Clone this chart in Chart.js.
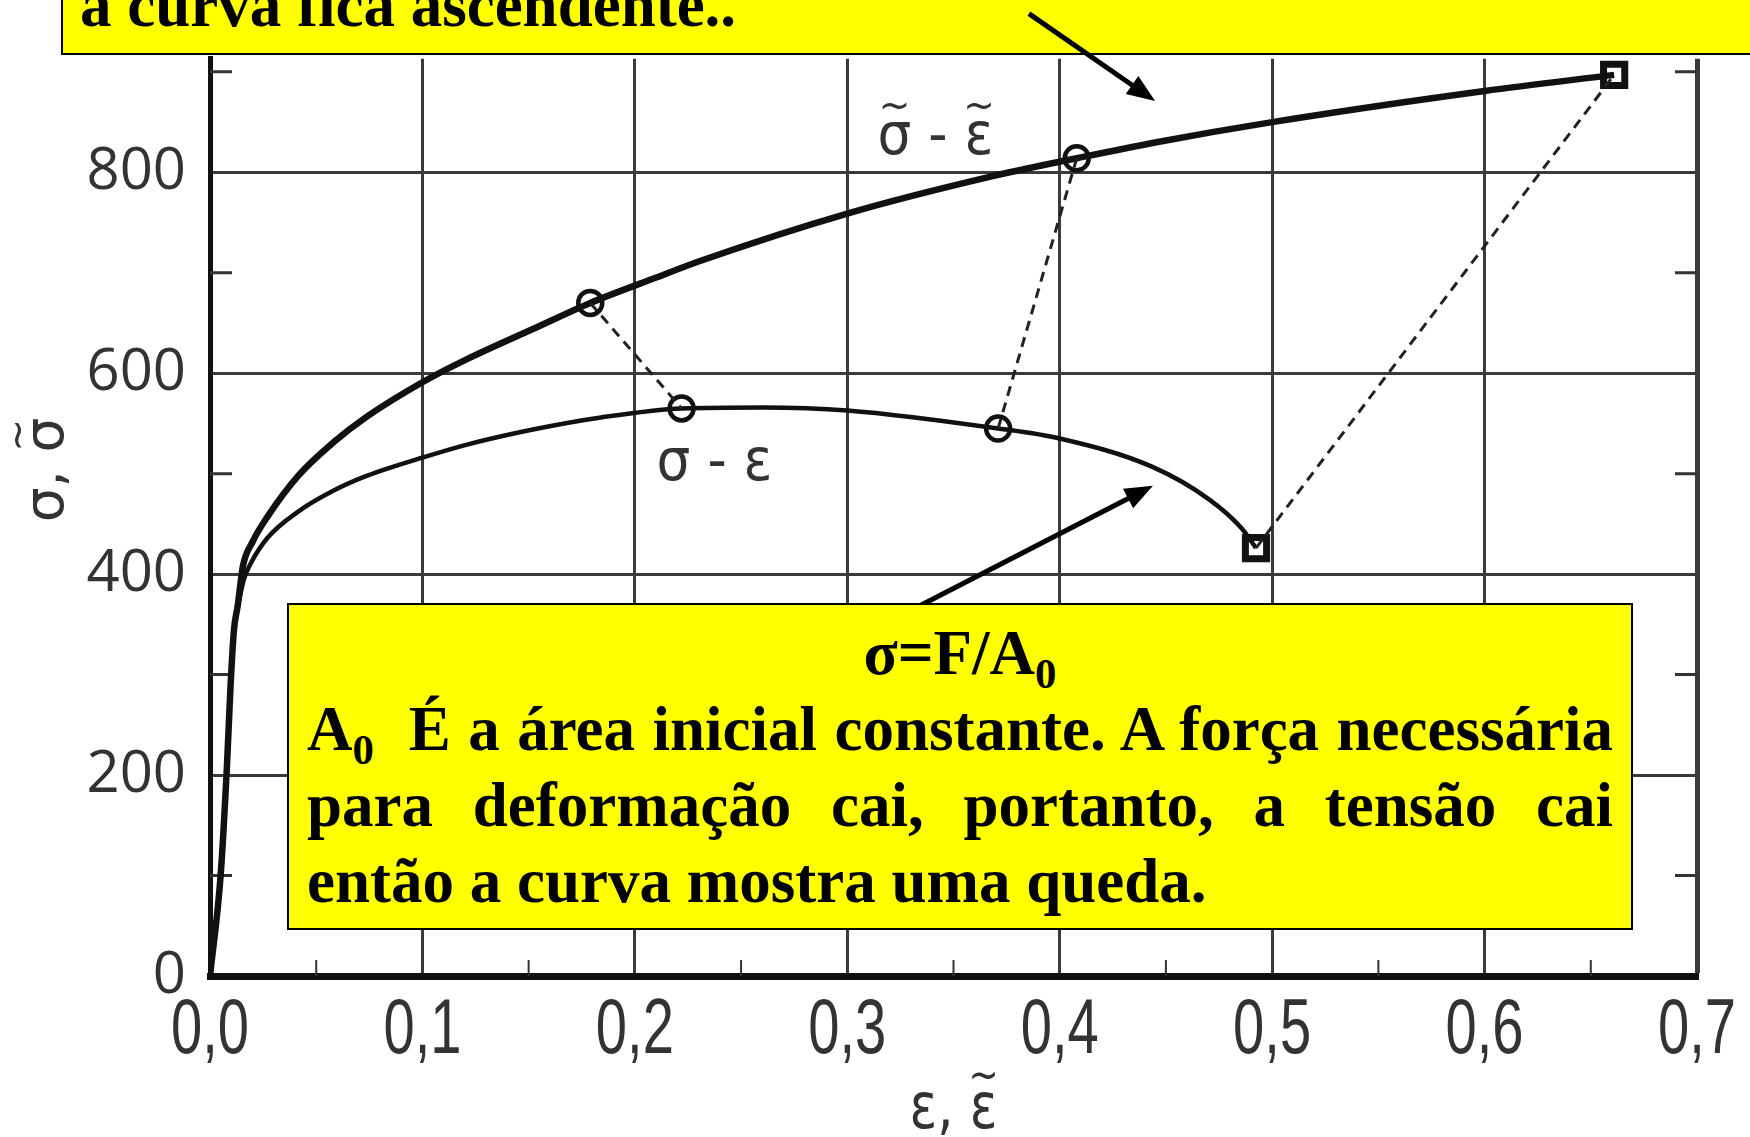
<!DOCTYPE html>
<html>
<head>
<meta charset="utf-8">
<script src="https://cdn.jsdelivr.net/npm/chart.js@4.4.1/dist/chart.umd.min.js"></script>
<style>
html, body { margin: 0; padding: 0; background: #fff; }
#wrap { position: relative; width: 1750px; height: 1137px; overflow: hidden; }
#chart { position: absolute; left: 0; top: 0; z-index: 1; }
.note {
    position: absolute; background: #ffff00; border: 2px solid #000; box-sizing: border-box;
    font-family: "Liberation Serif", "Times New Roman", serif; font-weight: bold; color: #000;
    font-size: 63px;
}
.note sub { font-size: 0.68em; vertical-align: -0.32em; line-height: 0; }
#noteTop { left: 61px; top: -80px; width: 1720px; height: 135px; z-index: 0; }
#noteTop div { position: absolute; left: 17px; top: 52px; line-height: 1; white-space: nowrap; }
#noteBottom { left: 287px; top: 603px; width: 1346px; height: 327px; z-index: 2; padding: 10px 18px 0 18px; }
#noteBottom div { line-height: 76px; height: 76px; white-space: nowrap; }
#noteBottom .c { text-align: center; }
#noteBottom .j { text-align: justify; text-align-last: justify; }
</style>
</head>
<body>
<div id="wrap">
  <div class="note" id="noteTop"><div>a curva fica ascendente..</div></div>
  <canvas id="chart" width="1750" height="1137"></canvas>
  <div class="note" id="noteBottom">
    <div class="c">σ=F/A<sub>0</sub></div>
    <div class="j">A<sub>0</sub>&nbsp; É a área inicial constante. A força necessária</div>
    <div class="j">para deformação cai, portanto, a tensão cai</div>
    <div>então a curva mostra uma queda.</div>
  </div>
</div>
<script>
// true stress - true strain curve
const trueStrain = [0, 0.005, 0.008, 0.0097, 0.0113, 0.013, 0.0155, 0.02, 0.027, 0.042, 0.058, 0.074, 0.1, 0.121, 0.152, 0.179, 0.2085, 0.231, 0.3, 0.366, 0.408, 0.4455, 0.5, 0.6, 0.661];
const trueStress = [0, 100, 210, 290, 345, 368, 408, 432, 457, 499, 531, 557, 591, 614, 644, 670, 694, 712, 759, 795, 814, 830, 850, 881, 897];

// engineering stress - strain curve
const engStrain = [0, 0.005, 0.008, 0.0097, 0.0113, 0.013, 0.016, 0.019, 0.027, 0.042, 0.058, 0.074, 0.1, 0.121, 0.152, 0.184, 0.222, 0.26, 0.3, 0.371, 0.4, 0.4434, 0.4706, 0.4855, 0.4924];
const engStress = [0, 100, 210, 290, 345, 366, 395, 410, 436, 463, 483, 498, 516, 529, 544, 556, 565, 566, 563, 545, 535, 507, 474, 446, 426];

// marked points
const trueMarkStrain = [0.179, 0.408];
const trueMarkStress = [670, 814];
const engMarkStrain = [0.222, 0.371];
const engMarkStress = [565, 545];
const endStrain = [0.4924, 0.661];   // end of eng curve, end of true curve
const endStress = [426, 897];

// axis ticks
const xTicks = [0, 0.1, 0.2, 0.3, 0.4, 0.5, 0.6, 0.7];
const yTickLabels = ['0', '200', '400', '600', '800'];

function pts(xs, ys) {
    return xs.map(function(x, i) { return { x: x, y: ys[i] }; });
}

var dashPairs = [
    [[trueMarkStrain[0], trueMarkStress[0]], [engMarkStrain[0], engMarkStress[0]]],
    [[engMarkStrain[1], engMarkStress[1]], [trueMarkStrain[1], trueMarkStress[1]]],
    [[endStrain[0], endStress[0]], [endStrain[1], endStress[1]]]
];

var datasets = [];
dashPairs.forEach(function(p) {
    datasets.push({
        data: [{ x: p[0][0], y: p[0][1] }, { x: p[1][0], y: p[1][1] }],
        showLine: true, borderColor: '#222', borderWidth: 3, borderDash: [10, 7],
        pointRadius: 0
    });
});
datasets.push({
    data: pts(trueStrain, trueStress), showLine: true, borderColor: '#111', borderWidth: 6.5,
    cubicInterpolationMode: 'monotone', pointRadius: 0
});
datasets.push({
    data: pts(engStrain, engStress), showLine: true, borderColor: '#111', borderWidth: 4.5,
    cubicInterpolationMode: 'monotone', pointRadius: 0
});
datasets.push({
    data: pts(trueMarkStrain, trueMarkStress).concat(pts(engMarkStrain, engMarkStress)),
    showLine: false, pointRadius: 12, pointBorderWidth: 4.5,
    pointBackgroundColor: '#fff', pointBorderColor: '#111'
});
datasets.push({
    data: pts(endStrain, endStress), showLine: false, pointStyle: 'rect',
    pointRadius: 15, pointBorderWidth: 7, pointBackgroundColor: '#fff', pointBorderColor: '#111'
});

// annotation anchors (data coordinates)
const arrowUpper = [[0.3855, 958], [0.4449, 871]];
const arrowLower = [[0.3346, 369], [0.4439, 488]];
const labelUpper = [0.3415, 818];
const labelLower = [0.2375, 494];

function drawArrow(ctx, x1, y1, x2, y2) {
    var a = Math.atan2(y2 - y1, x2 - x1);
    var len = 28, w = 11;
    ctx.save();
    ctx.strokeStyle = '#000'; ctx.fillStyle = '#000'; ctx.lineWidth = 5;
    ctx.beginPath();
    ctx.moveTo(x1, y1);
    ctx.lineTo(x2 - Math.cos(a) * len * 0.8, y2 - Math.sin(a) * len * 0.8);
    ctx.stroke();
    ctx.beginPath();
    ctx.moveTo(x2, y2);
    ctx.lineTo(x2 - Math.cos(a) * len - Math.sin(a) * w, y2 - Math.sin(a) * len + Math.cos(a) * w);
    ctx.lineTo(x2 - Math.cos(a) * len + Math.sin(a) * w, y2 - Math.sin(a) * len - Math.cos(a) * w);
    ctx.closePath();
    ctx.fill();
    ctx.restore();
}

// narrow text: normal font squeezed sideways
function narrowText(ctx, txt, x, y, sx) {
    ctx.save();
    ctx.translate(x, y);
    ctx.scale(sx, 1);
    ctx.fillText(txt, 0, 0);
    ctx.restore();
}

// centred text, with a tilde set well above the characters listed in marks
function tildeText(ctx, s, marks, x, y, sx, size) {
    var font = size + 'px "DejaVu Sans", sans-serif';
    ctx.save();
    ctx.translate(x, y);
    ctx.scale(sx, 1);
    ctx.textBaseline = 'alphabetic';
    ctx.textAlign = 'left';
    ctx.font = font;
    var x0 = -ctx.measureText(s).width / 2;
    ctx.fillText(s, x0, 0);
    marks.forEach(function(i) {
        ctx.font = font;
        var pre = ctx.measureText(s.slice(0, i)).width;
        var cw = ctx.measureText(s.charAt(i)).width;
        ctx.font = Math.round(size * 0.7) + 'px "DejaVu Sans", sans-serif';
        ctx.textAlign = 'center';
        ctx.fillText('~', x0 + pre + cw / 2, -size * 0.6);
        ctx.textAlign = 'left';
    });
    ctx.restore();
}

var decor = {
    id: 'decor',
    beforeDatasetsDraw: function(chart) {
        var ctx = chart.ctx, a = chart.chartArea, xs = chart.scales.x, ys = chart.scales.y;
        ctx.save();
        ctx.strokeStyle = '#333';
        ctx.lineWidth = 3;
        // minor ticks, y
        for (var v = 100; v < 913; v += 200) {
            var py = ys.getPixelForValue(v);
            ctx.beginPath();
            ctx.moveTo(a.left, py); ctx.lineTo(a.left + 22, py);
            ctx.moveTo(a.right, py); ctx.lineTo(a.right - 22, py);
            ctx.stroke();
        }
        // minor ticks, x
        ctx.lineWidth = 2;
        for (var i = 0; i < xTicks.length - 1; i++) {
            var px = xs.getPixelForValue((xTicks[i] + xTicks[i + 1]) / 2);
            ctx.beginPath();
            ctx.moveTo(px, a.bottom); ctx.lineTo(px, a.bottom - 16);
            ctx.stroke();
        }
        ctx.restore();
    },
    afterDraw: function(chart) {
        var ctx = chart.ctx, a = chart.chartArea, xs = chart.scales.x, ys = chart.scales.y;
        function X(v) { return xs.getPixelForValue(v); }
        function Y(v) { return ys.getPixelForValue(v); }
        drawArrow(ctx, X(arrowUpper[0][0]), Y(arrowUpper[0][1]), X(arrowUpper[1][0]), Y(arrowUpper[1][1]));
        drawArrow(ctx, X(arrowLower[0][0]), Y(arrowLower[0][1]), X(arrowLower[1][0]), Y(arrowLower[1][1]));

        ctx.save();
        ctx.fillStyle = '#333';
        ctx.textAlign = 'center';

        // x tick labels (condensed)
        ctx.textBaseline = 'alphabetic';
        ctx.font = '78px "Liberation Sans", sans-serif';
        xTicks.forEach(function(v) {
            narrowText(ctx, v.toFixed(1).replace('.', ','), X(v), a.bottom + 77, 0.72);
        });

        // curve labels
        tildeText(ctx, 'σ - ε', [0, 4], X(labelUpper[0]), Y(labelUpper[1]), 0.92, 58);
        tildeText(ctx, 'σ - ε', [], X(labelLower[0]), Y(labelLower[1]), 0.92, 58);

        // axis titles
        tildeText(ctx, 'ε, ε', [3], (a.left + a.right) / 2, 1128, 0.8, 64);
        ctx.save();
        ctx.translate(63, 470);
        ctx.rotate(-Math.PI / 2);
        tildeText(ctx, 'σ, σ', [3], 0, 0, 1, 55);
        ctx.restore();
        ctx.restore();
    }
};

new Chart(document.getElementById('chart').getContext('2d'), {
    type: 'scatter',
    data: { datasets: datasets },
    plugins: [decor],
    options: {
        responsive: false,
        animation: false,
        layout: { padding: { top: 56, right: 53, left: 0, bottom: 0 } },
        plugins: { legend: { display: false }, tooltip: { enabled: false } },
        scales: {
            x: {
                type: 'linear', min: xTicks[0], max: xTicks[xTicks.length - 1],
                afterFit: function(s) { s.height = 161; },
                afterBuildTicks: function(s) { s.ticks = xTicks.map(function(v) { return { value: v }; }); },
                ticks: { display: false },
                grid: {
                    drawTicks: false, color: '#3a3a3a',
                    lineWidth: function(c) { return (c.tick && Math.abs(c.tick.value - 0.7) < 1e-6) ? 5 : 3; }
                },
                border: { display: true, color: '#111', width: 7 }
            },
            y: {
                min: 0, max: 913,
                afterFit: function(s) { s.width = 210; },
                afterBuildTicks: function(s) {
                    s.ticks = yTickLabels.map(function(t) { return { value: Number(t) }; });
                },
                ticks: {
                    padding: 24, color: '#333',
                    font: { family: '"Open Sans", sans-serif', size: 58 },
                    callback: function(v, i) { return yTickLabels[i]; }
                },
                grid: { drawTicks: false, color: '#3a3a3a', lineWidth: 3 },
                border: { display: true, color: '#111', width: 5 }
            }
        }
    }
});
</script>
</body>
</html>
